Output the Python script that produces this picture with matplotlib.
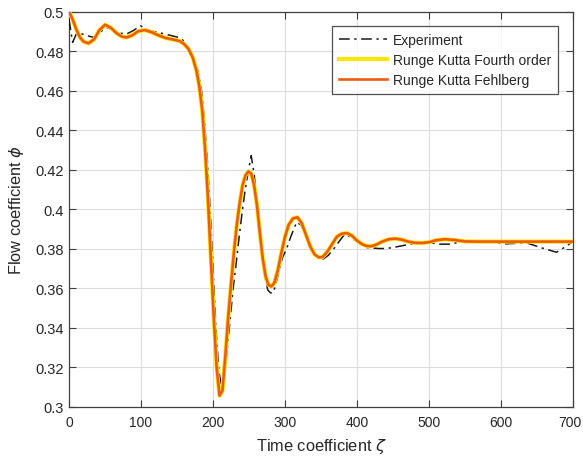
import matplotlib
matplotlib.use("Agg")
import matplotlib.pyplot as plt
import matplotlib.transforms as mtransforms
from matplotlib.ticker import FuncFormatter

plt.rcParams['font.family'] = ['Liberation Sans', 'DejaVu Sans']
plt.rcParams['mathtext.fontset'] = 'dejavusans'

# Simulation (RK4 / RKF, nearly identical)
sim_t = [0, 5, 10, 15, 20, 27, 35, 42, 50, 58, 66, 74, 80, 88, 96, 105, 115, 125, 135, 145,
         154, 160, 166, 172, 177, 181, 185, 189, 193, 197, 201, 205, 209, 213, 217, 221, 225,
         229, 233, 237, 241, 245, 249, 253, 257, 261, 265, 269, 273, 277, 281, 285, 290, 295,
         300, 305, 311, 317, 323, 329, 335, 341, 347, 352, 358, 365, 372, 379, 386, 393, 400,
         407, 413, 419, 427, 435, 444, 453, 462, 471, 480, 490, 500, 510, 522, 535, 550, 570,
         600, 650, 700]
sim_v = [0.500, 0.496, 0.491, 0.487, 0.4848, 0.4839, 0.4860, 0.4905, 0.4933, 0.4918, 0.4890,
         0.4872, 0.4869, 0.4880, 0.4900, 0.4906, 0.4895, 0.4878, 0.4865, 0.4858, 0.4850, 0.4835,
         0.4810, 0.4765, 0.470, 0.462, 0.450, 0.430, 0.405, 0.375, 0.345, 0.320, 0.3055, 0.308,
         0.325, 0.345, 0.362, 0.378, 0.392, 0.403, 0.412, 0.417, 0.419, 0.418, 0.412, 0.402,
         0.388, 0.375, 0.366, 0.3615, 0.3608, 0.3625, 0.369, 0.378, 0.386, 0.392, 0.3952, 0.3958,
         0.393, 0.387, 0.381, 0.377, 0.3755, 0.3757, 0.378, 0.382, 0.386, 0.3875, 0.3878, 0.3865,
         0.384, 0.3822, 0.3813, 0.3811, 0.382, 0.3835, 0.3847, 0.385, 0.3845, 0.3835, 0.3829,
         0.3828, 0.3832, 0.3842, 0.3847, 0.3843, 0.3836, 0.3835, 0.3835, 0.3835, 0.3835]

# Experiment
exp_t = [0, 3, 5, 10, 15, 25, 34, 43, 52, 62, 72, 80, 90, 99, 105, 112, 125, 140, 152, 160,
         168, 174, 179, 184, 188, 192, 196, 200, 204, 208, 212, 216, 220, 224, 228, 232, 236,
         240, 244, 248, 253, 257, 262, 267, 272, 276, 280, 284, 290, 296, 302, 308, 316, 322,
         330, 338, 346, 353, 360, 368, 376, 383, 390, 398, 406, 413, 420, 430, 440, 450, 464,
         475, 488, 500, 515, 530, 548, 565, 585, 603, 620, 636, 655, 677, 690, 700]
exp_v = [0.496, 0.489, 0.4844, 0.4885, 0.4890, 0.4878, 0.4869, 0.4895, 0.4920, 0.4905, 0.4890,
         0.4886, 0.4905, 0.4928, 0.4915, 0.4903, 0.4893, 0.4880, 0.4869, 0.4850, 0.4800, 0.4750,
         0.4700, 0.4600, 0.4450, 0.4250, 0.400, 0.370, 0.340, 0.318, 0.310, 0.316, 0.330, 0.345,
         0.360, 0.372, 0.385, 0.397, 0.408, 0.417, 0.427, 0.418, 0.400, 0.382, 0.366, 0.359,
         0.3575, 0.3578, 0.366, 0.375, 0.3797, 0.386, 0.3933, 0.392, 0.386, 0.380, 0.3755, 0.3747,
         0.3765, 0.380, 0.384, 0.3873, 0.386, 0.384, 0.382, 0.3805, 0.3803, 0.3800, 0.3800,
         0.3805, 0.3815, 0.3823, 0.3830, 0.3830, 0.3822, 0.3822, 0.3838, 0.3837, 0.3836, 0.3823,
         0.3826, 0.3828, 0.3805, 0.3781, 0.381, 0.3836]

x_ticks = [0, 100, 200, 300, 400, 500, 600, 700]
y_ticks = [0.3, 0.32, 0.34, 0.36, 0.38, 0.4, 0.42, 0.44, 0.46, 0.48, 0.5]

fig = plt.figure(figsize=(5.83, 4.6), dpi=100)
ax = fig.add_axes([0.1184, 0.1141, 0.8645, 0.8587])

txt = '#262626'
ax.plot(exp_t, exp_v, color='#1a1a1a', lw=1.1, linestyle=(0, (7, 3, 1.5, 3)), label='Experiment', zorder=3)
ax.plot(sim_t, sim_v, color='#ffe600', lw=3.0, label='Runge Kutta Fourth order', zorder=4)
ax.plot(sim_t, sim_v, color='#ef5a12', lw=1.9, label='Runge Kutta Fehlberg', zorder=5)

ax.set_xlim(0, 700)
ax.set_ylim(0.3, 0.5)
ax.set_xticks(x_ticks)
ax.set_yticks(y_ticks)
ax.yaxis.set_major_formatter(FuncFormatter(lambda v, p: ('%g' % round(v, 2))))
ax.grid(True, color='#dcdcdc', lw=0.8)
ax.set_axisbelow(True)
ax.tick_params(direction='in', top=True, right=True, length=5, labelsize=10.5, colors='#404040', labelcolor=txt)
ax.tick_params(axis='x', pad=6, labelsize=10)
for s in ax.spines.values():
    s.set_color('#404040')
    s.set_linewidth(0.9)

# nudge the last x tick label so it stays inside the canvas
last = ax.xaxis.get_major_ticks()[-1].label1
last.set_transform(last.get_transform() + mtransforms.ScaledTranslation(-3 / 100, 0, fig.dpi_scale_trans))

ax.set_xlabel(r'Time coefficient $\zeta$', fontsize=11.8, color=txt, labelpad=5)
ax.set_ylabel(r'Flow coefficient $\phi$', fontsize=11.8, color=txt, labelpad=7)

leg = ax.legend(loc='upper right', bbox_to_anchor=(0.957, 0.942), bbox_transform=fig.transFigure,
                fontsize=10, frameon=True, fancybox=False, edgecolor='#262626', borderaxespad=0,
                handlelength=3.5, borderpad=0.5, labelspacing=0.45, handletextpad=0.4)
leg.get_frame().set_linewidth(0.9)
for t in leg.get_texts():
    t.set_color(txt)

fig.savefig('out.png', dpi=100)
